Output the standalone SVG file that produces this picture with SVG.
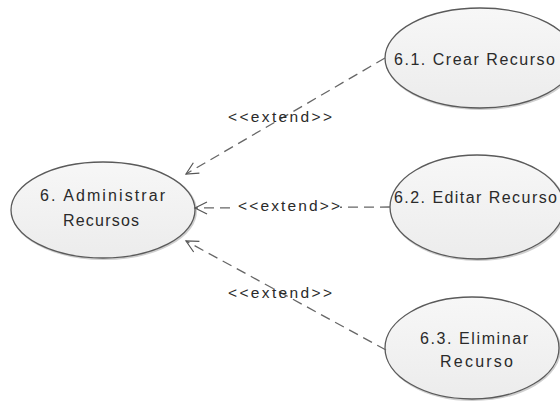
<svg xmlns="http://www.w3.org/2000/svg" width="560" height="404" viewBox="0 0 560 404">
  <defs>
    <linearGradient id="ucFill" x1="0" y1="0" x2="0" y2="1">
      <stop offset="0" stop-color="#f7f7f7"/>
      <stop offset="1" stop-color="#ececec"/>
    </linearGradient>
    <marker id="openArrow" viewBox="-14 -8 16 16" refX="0" refY="0" markerWidth="16" markerHeight="16" markerUnits="userSpaceOnUse" orient="auto">
      <path d="M-12,-6 L0,0 L-12,6" fill="none" stroke="#555" stroke-width="1.2"/>
    </marker>
  </defs>
  <style>
    .uc { fill: url(#ucFill); stroke: #5a5a5a; stroke-width: 1.3; }
    .shadow { fill: none; stroke: #cfcfcf; stroke-width: 2; }
    .lbl { font-family: "Liberation Sans", Arial, sans-serif; font-size: 16px; fill: #2a2a2a; }
    .ext { font-family: "Liberation Sans", Arial, sans-serif; font-size: 15.5px; fill: #2a2a2a; }
    .dep { fill: none; stroke: #666; stroke-width: 1.3; stroke-dasharray: 10 6; marker-end: url(#openArrow); }
  </style>
  <rect width="560" height="404" fill="#ffffff"/>

  <g id="uc6">
    <ellipse class="shadow" cx="104" cy="211" rx="92" ry="48"/>
    <ellipse class="uc" cx="103" cy="210" rx="92" ry="48"/>
    <text class="lbl" x="40" y="201" textLength="125" lengthAdjust="spacing">6. Administrar</text>
    <text class="lbl" x="63" y="226" textLength="76" lengthAdjust="spacing">Recursos</text>
  </g>

  <g id="uc6_1">
    <ellipse class="shadow" cx="481" cy="59" rx="95" ry="50"/>
    <ellipse class="uc" cx="480" cy="58" rx="95" ry="50"/>
    <text class="lbl" x="394" y="65" textLength="161" lengthAdjust="spacing">6.1. Crear Recurso</text>
  </g>

  <g id="uc6_2">
    <ellipse class="shadow" cx="478" cy="208" rx="87" ry="52"/>
    <ellipse class="uc" cx="477" cy="207" rx="87" ry="52"/>
    <text class="lbl" x="394" y="203" textLength="163" lengthAdjust="spacing">6.2. Editar Recurso</text>
  </g>

  <g id="uc6_3">
    <ellipse class="shadow" cx="473" cy="349" rx="87" ry="51"/>
    <ellipse class="uc" cx="472" cy="348" rx="87" ry="51"/>
    <text class="lbl" x="420" y="344" textLength="108" lengthAdjust="spacing">6.3. Eliminar</text>
    <text class="lbl" x="440" y="367" textLength="73" lengthAdjust="spacing">Recurso</text>
  </g>

  <!-- extend dependencies -->
  <g id="connectors">
    <line class="dep" x1="385" y1="58" x2="186" y2="174"/>
    <line class="dep" x1="390" y1="207" x2="195" y2="208"/>
    <line class="dep" x1="386" y1="350" x2="186" y2="241"/>
    <rect x="232" y="196" width="108" height="18" fill="#ffffff"/>
    <text class="ext" x="228" y="122" textLength="104" lengthAdjust="spacing">&lt;&lt;extend&gt;&gt;</text>
    <text class="ext" x="238" y="211" textLength="102" lengthAdjust="spacing">&lt;&lt;extend&gt;&gt;</text>
    <text class="ext" x="228" y="298" textLength="104" lengthAdjust="spacing">&lt;&lt;extend&gt;&gt;</text>
  </g>
</svg>
